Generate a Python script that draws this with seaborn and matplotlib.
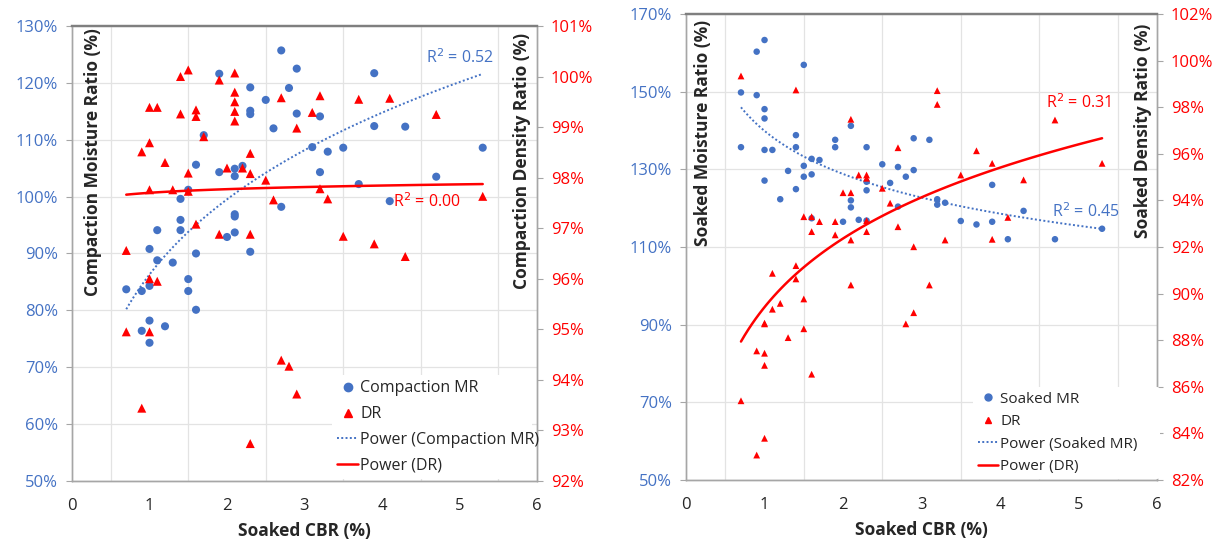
import numpy as np
import pandas as pd
import matplotlib
matplotlib.use("Agg")
import matplotlib.pyplot as plt
import seaborn as sns
from matplotlib.lines import Line2D
from matplotlib.ticker import FuncFormatter, MultipleLocator

# --- data ---
# left panel: compaction
comp_mr = [(2.7, 125.7), (2.9, 122.5), (1.9, 121.6), (2.3, 119.2), (2.8, 119.1), (2.5, 117.0),
           (2.3, 115.1), (2.3, 114.5), (2.9, 114.6), (3.2, 114.1), (2.6, 112.0), (1.7, 110.8),
           (3.1, 108.7), (3.3, 107.9), (3.5, 108.6), (1.6, 105.6), (1.9, 104.3), (2.1, 104.9),
           (2.2, 105.4), (2.1, 103.6), (3.2, 104.3), (1.5, 101.2), (1.4, 99.6), (2.7, 98.2),
           (2.1, 96.9), (2.1, 96.5), (1.4, 95.9), (1.1, 94.1), (1.4, 94.1), (2.0, 92.9),
           (2.1, 93.7), (1.0, 90.8), (1.6, 90.0), (2.3, 90.3), (1.1, 88.8), (1.3, 88.4),
           (0.7, 83.7), (0.9, 83.4), (1.0, 84.3), (1.5, 85.5), (1.5, 83.4), (1.6, 80.1),
           (1.0, 78.2), (0.9, 76.4), (1.2, 77.2), (1.0, 74.3), (3.9, 121.7), (3.9, 112.4),
           (4.3, 112.3), (4.7, 103.5), (3.7, 102.2), (4.1, 99.2), (5.3, 108.6)]
comp_dr = [(1.5, 100.13), (1.4, 100.0), (2.1, 100.07), (1.9, 99.93), (2.1, 99.69), (2.1, 99.50),
           (2.1, 99.31), (2.1, 99.12), (1.0, 99.39), (1.1, 99.39), (1.4, 99.26), (1.6, 99.34),
           (1.6, 99.21), (2.7, 99.58), (3.2, 99.62), (3.1, 99.29), (2.9, 98.98), (3.7, 99.55),
           (1.7, 98.81), (1.0, 98.69), (0.9, 98.51), (1.2, 98.30), (2.3, 98.48), (2.0, 98.19),
           (2.2, 98.19), (1.5, 98.09), (2.3, 98.08), (2.5, 97.95), (1.0, 97.76), (1.3, 97.76),
           (1.5, 97.73), (3.2, 97.78), (2.6, 97.56), (3.3, 97.58), (1.6, 97.08), (1.9, 96.88),
           (2.3, 96.88), (3.5, 96.84), (0.7, 96.56), (4.1, 99.57), (4.7, 99.25), (3.9, 96.69),
           (4.3, 96.44), (5.3, 97.63), (1.0, 96.0), (1.1, 95.95), (0.7, 94.95), (1.0, 94.95),
           (2.7, 94.39), (2.8, 94.27), (2.9, 93.72), (0.9, 93.44), (2.3, 92.74)]
# right panel: soaked
soak_mr = [(1.0, 163.3), (0.9, 160.3), (1.5, 156.9), (0.7, 149.8), (0.9, 149.1), (1.0, 145.5),
           (1.0, 143.1), (2.1, 141.2), (1.4, 138.8), (1.9, 137.6), (2.9, 138.0), (3.1, 137.6),
           (0.7, 135.7), (1.0, 135.0), (1.1, 135.0), (1.4, 135.7), (1.9, 135.7), (2.3, 135.7),
           (1.6, 132.7), (1.7, 132.4), (2.5, 131.3), (2.7, 130.6), (1.5, 130.9), (2.9, 129.8),
           (2.8, 128.1), (1.3, 129.6), (1.5, 128.1), (1.6, 128.7), (1.0, 127.1), (2.3, 126.8),
           (2.6, 126.5), (1.4, 124.9), (2.3, 124.6), (1.2, 122.3), (2.1, 122.0), (2.1, 120.2),
           (2.7, 120.4), (3.2, 122.3), (3.2, 120.9), (3.3, 121.4), (2.0, 116.5), (2.2, 117.0),
           (2.3, 116.8), (1.6, 117.4), (3.5, 116.7), (3.9, 126.0), (3.7, 115.8), (3.9, 116.5),
           (4.3, 119.3), (4.1, 112.0), (4.7, 112.0), (5.3, 114.7)]
soak_dr = [(0.7, 99.34), (1.4, 98.74), (2.1, 97.48), (3.2, 98.71), (3.2, 98.12), (2.7, 96.26),
           (2.2, 95.09), (2.3, 95.09), (2.3, 94.95), (2.0, 94.33), (2.1, 94.33), (2.5, 94.52),
           (2.6, 93.88), (2.7, 92.87), (1.5, 93.30), (1.6, 93.30), (1.7, 93.09), (1.9, 93.09),
           (2.3, 93.13), (1.6, 92.66), (1.9, 92.52), (2.1, 92.30), (2.3, 92.66), (2.9, 92.01),
           (3.3, 92.30), (3.5, 95.09), (4.7, 97.45), (3.7, 96.13), (3.9, 95.59), (5.3, 95.59),
           (4.3, 94.88), (4.1, 93.27), (3.9, 92.33), (1.1, 90.87), (1.4, 91.20), (1.4, 90.63),
           (2.1, 90.37), (3.1, 90.37), (1.5, 89.77), (1.2, 89.58), (1.1, 89.33), (2.9, 89.18),
           (1.0, 88.73), (1.0, 88.70), (2.8, 88.70), (1.5, 88.49), (1.3, 88.11), (0.9, 87.54),
           (1.0, 87.44), (1.0, 86.92), (1.6, 86.54), (0.7, 85.40), (1.0, 83.79), (0.9, 83.07)]

# power trendlines y = a * x^b as shown on the chart (a, b)
trend_comp_mr = (86.3, 0.2055)
trend_comp_dr = (97.70, 0.00106)
trend_soak_mr = (139.9, -0.1192)
trend_soak_dr = (89.42, 0.04673)

r2_comp = ["0.52", "0.00"]   # MR, DR
r2_soak = ["0.45", "0.31"]

comp_ticks = np.arange(50, 131, 10)
comp_ticks2 = np.arange(92, 101.5, 1)
soak_ticks = np.arange(50, 171, 20)
soak_ticks2 = np.arange(82, 102.5, 2)

BLUE = "#4472C4"
RED = "#FF0000"
GRID = "#E3E3E3"
SPINE = "#A6A6A6"

sns.set_style("white")
plt.rcParams["font.family"] = ["Open Sans", "DejaVu Sans"]


def trend(pts, coef):
    x = np.array([p[0] for p in pts])
    xs = np.linspace(x.min(), x.max(), 100)
    return xs, coef[0] * xs ** coef[1]


def pct(v, _):
    return f"{v:.0f}%"


def panel(rect, mr, dr, trends, ticks, ticks2, labels, r2, r2pos, leg_names,
          leg_anchor, msize, fs_leg, spacing, ylab_pos, y2lab_pos):
    ax = fig.add_axes(rect)
    ax2 = ax.twinx()
    df_mr = pd.DataFrame(mr, columns=["cbr", "val"])
    df_dr = pd.DataFrame(dr, columns=["cbr", "val"])

    sns.scatterplot(data=df_mr, x="cbr", y="val", ax=ax, color=BLUE, marker="o",
                    s=msize[0], edgecolor="none", zorder=3)
    xs, ys = trend(mr, trends[0])
    ax.plot(xs, ys, color=BLUE, lw=1.4, ls=(0, (1, 1.2)), zorder=4)

    sns.scatterplot(data=df_dr, x="cbr", y="val", ax=ax2, color=RED, marker="^",
                    s=msize[1], edgecolor="none", zorder=3)
    xs, ys = trend(dr, trends[1])
    ax2.plot(xs, ys, color=RED, lw=1.8, zorder=4)

    ax.set_xlim(0, 6)
    ax.set_ylim(ticks[0], ticks[-1])
    ax2.set_ylim(ticks2[0], ticks2[-1])
    ax.xaxis.set_major_locator(MultipleLocator(1))
    ax.set_xticks(np.arange(0.5, 6, 1.0), minor=True)
    ax.set_yticks(ticks)
    ax2.set_yticks(ticks2)
    ax.yaxis.set_major_formatter(FuncFormatter(pct))
    ax2.yaxis.set_major_formatter(FuncFormatter(pct))

    ax.grid(True, axis="y", which="major", color=GRID, lw=0.9)
    ax.grid(True, axis="x", which="minor", color=GRID, lw=0.9)
    ax.set_axisbelow(True)

    ax.tick_params(axis="x", which="both", direction="out", length=4, color=SPINE,
                   labelsize=12, labelcolor="#262626", pad=8)
    ax.tick_params(axis="y", direction="out", length=4, color=SPINE,
                   labelsize=12, labelcolor=BLUE, pad=6)
    ax2.tick_params(axis="y", direction="out", length=4, color=SPINE,
                    labelsize=12, labelcolor=RED, pad=6)

    for a in (ax, ax2):
        for s in a.spines.values():
            s.set_color(SPINE)
            s.set_linewidth(1.0)
        a.spines["top"].set_color("#7F7F7F")
        a.spines["top"].set_linewidth(1.6)
        a.set_ylabel("")
    ax.set_xlabel("Soaked CBR (%)", fontsize=12.5, fontweight="bold", labelpad=6)

    ax2.text(ylab_pos[0], ylab_pos[1], labels[0], transform=ax.transAxes, rotation=90,
             ha="center", va="top", fontsize=12.5, fontweight="bold", zorder=6)
    ax2.text(y2lab_pos[0], y2lab_pos[1], labels[1], transform=ax.transAxes, rotation=90,
             ha="center", va="top", fontsize=12.5, fontweight="bold", zorder=6)

    ax.text(r2pos[0][0], r2pos[0][1], f"R$^2$ = {r2[0]}", color=BLUE, fontsize=11.5,
            ha="center", va="center", zorder=6)
    ax2.text(r2pos[1][0], r2pos[1][1], f"R$^2$ = {r2[1]}", color=RED, fontsize=11.5,
             ha="center", va="center", zorder=6)

    handles = [
        Line2D([], [], color=BLUE, marker="o", ls="", markersize=msize[2]),
        Line2D([], [], color=RED, marker="^", ls="", markersize=msize[2]),
        Line2D([], [], color=BLUE, lw=1.4, ls=(0, (1, 1.2))),
        Line2D([], [], color=RED, lw=1.8),
    ]
    leg = ax2.legend(handles, leg_names, loc="lower left", bbox_to_anchor=leg_anchor,
                     mode="expand", bbox_transform=ax.transAxes, frameon=True,
                     facecolor="white", edgecolor="none", framealpha=1, fontsize=fs_leg,
                     labelspacing=spacing, handlelength=1.3, handletextpad=0.15,
                     borderpad=0.3, borderaxespad=0)
    leg.set_zorder(10)
    return ax, ax2


fig = plt.figure(figsize=(12.31, 5.49), dpi=100)

panel([0.0585, 0.1239, 0.3777, 0.8288], comp_mr, comp_dr, (trend_comp_mr, trend_comp_dr),
      comp_ticks, comp_ticks2,
      ["Compaction Moisture Ratio (%)", "Compaction Density Ratio (%)"],
      r2_comp, [(5.0, 124.4), (4.58, 97.52)],
      ["Compaction MR", "DR", "Power (Compaction MR)", "Power (DR)"],
      (0.56, 0.005, 0.43, 0.2), (34, 42, 6), 11.5, 0.62, (0.045, 0.995), (0.968, 0.985))

panel([0.5573, 0.1257, 0.3826, 0.8488], soak_mr, soak_dr, (trend_soak_mr, trend_soak_dr),
      soak_ticks, soak_ticks2,
      ["Soaked Moisture Ratio (%)", "Soaked Density Ratio (%)"],
      r2_soak, [(5.09, 119.0), (5.0, 98.18)],
      ["Soaked MR", "DR", "Power (Soaked MR)", "Power (DR)"],
      (0.61, 0.002, 0.396, 0.2), (22, 24, 5), 11, 0.5, (0.036, 0.987), (0.970, 0.98))

fig.savefig("out.png", dpi=100)
